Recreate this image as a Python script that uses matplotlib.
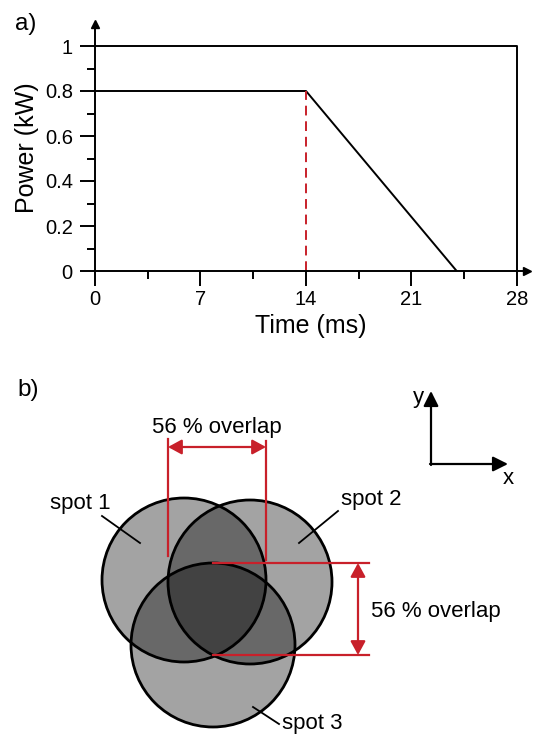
import matplotlib
matplotlib.use("Agg")
import matplotlib.pyplot as plt
from matplotlib.patches import Circle

plt.rcParams['font.family'] = ['Liberation Sans', 'DejaVu Sans']

RED = '#c8202a'

# panel a: laser power profiles
full_t = [0, 28, 28]
full_p = [1, 1, 0]
ramp_t = [0, 14, 24]
ramp_p = [0.8, 0.8, 0]
switch_t = 14
switch_p = 0.8
x_major = [0, 7, 14, 21, 28]
x_minor = [3.5, 10.5, 17.5, 24.5]
y_major = [0, 0.2, 0.4, 0.6, 0.8, 1]
y_major_labels = ['0', '0.2', '0.4', '0.6', '0.8', '1']
y_minor = [0.1, 0.3, 0.5, 0.7, 0.9]

# panel b: spot layout (diagram units)
spot_x = [184, 250, 213]
spot_y = [580, 582, 645]
spot_r = 82
spot_names = ['spot 1', 'spot 2', 'spot 3']
overlap_text = '56 % overlap'

fig = plt.figure(figsize=(5.33, 7.35), dpi=100)

# ---------- a) ----------
ax = fig.add_axes([95 / 533, 1 - 271 / 735, (527 - 95) / 533, (271 - 24) / 735])
ax.set_xlim(0, (527 - 95) / 15.07)
ax.set_ylim(0, (271 - 24) / 225)
for s in ['top', 'right']:
    ax.spines[s].set_visible(False)
for s in ['left', 'bottom']:
    ax.spines[s].set_linewidth(1.4)

ax.plot(full_t, full_p, color='black', lw=1.4, clip_on=False)
ax.plot(ramp_t, ramp_p, color='black', lw=1.4)
ax.plot([switch_t, switch_t], [0, switch_p], color=RED, lw=1.4,
        linestyle=(0, (5, 3)))

ax.set_xticks(x_major)
ax.set_xticks(x_minor, minor=True)
ax.set_yticks(y_major)
ax.set_yticklabels(y_major_labels)
ax.set_yticks(y_minor, minor=True)
ax.tick_params(which='major', direction='out', length=11, width=1.4,
               labelsize=14.5)
ax.tick_params(which='minor', direction='out', length=5.5, width=1.4)
ax.tick_params(axis='x', which='major', pad=3)
ax.tick_params(axis='y', which='major', pad=5)
ax.set_xlabel('Time (ms)', fontsize=18, labelpad=3)
ax.set_ylabel('Power (kW)', fontsize=18, labelpad=4)

# axis arrow heads
ax.plot([1], [0], marker='>', ms=6, color='black', transform=ax.transAxes,
        clip_on=False)
ax.plot([0], [1], marker='^', ms=6, color='black', transform=ax.transAxes,
        clip_on=False)

fig.text(15 / 533, 1 - 24 / 735, 'a)', fontsize=17.5, va='center', ha='left')

# ---------- b) ----------
bx = fig.add_axes([0, 0, 1, 365 / 735])
bx.set_xlim(0, 533)
bx.set_ylim(735, 370)
bx.axis('off')

for cx, cy in zip(spot_x, spot_y):
    bx.add_patch(Circle((cx, cy), spot_r, facecolor=(0, 0, 0, 0.36),
                        edgecolor='black', lw=2, zorder=2))

# leader lines and spot labels
bx.plot([102, 140], [516, 543], color='black', lw=1.3, zorder=3)
bx.text(111, 509, spot_names[0], fontsize=16, ha='right', va='baseline')
bx.plot([338, 299], [511, 543], color='black', lw=1.3, zorder=3)
bx.text(341, 505, spot_names[1], fontsize=16, ha='left', va='baseline')
bx.plot([253, 279], [707, 724], color='black', lw=1.3, zorder=3)
bx.text(282, 729, spot_names[2], fontsize=16, ha='left', va='baseline')

# horizontal overlap bracket
left_edge = spot_x[1] - spot_r
right_edge = spot_x[0] + spot_r
bx.plot([left_edge, left_edge], [439, 556], color=RED, lw=1.6, zorder=4)
bx.plot([right_edge, right_edge], [441, 560], color=RED, lw=1.6, zorder=4)
bx.annotate('', xy=(right_edge, 447), xytext=(left_edge, 447),
            arrowprops=dict(arrowstyle='<|-|>,head_length=0.55,head_width=0.3',
                            color=RED, lw=1.6, shrinkA=0, shrinkB=0,
                            mutation_scale=15), zorder=4)
bx.text((left_edge + right_edge) / 2, 433, overlap_text, fontsize=16,
        ha='center', va='baseline')

# vertical overlap bracket
top_edge = spot_y[2] - spot_r
bottom_line = 655
bx.plot([spot_x[2], 369], [top_edge, top_edge], color=RED, lw=1.6, zorder=4)
bx.plot([spot_x[2], 369], [bottom_line, bottom_line], color=RED, lw=1.6, zorder=4)
bx.annotate('', xy=(358, top_edge), xytext=(358, bottom_line),
            arrowprops=dict(arrowstyle='<|-|>,head_length=0.55,head_width=0.3',
                            color=RED, lw=1.6, shrinkA=0, shrinkB=0,
                            mutation_scale=15), zorder=4)
bx.text(371, 612, overlap_text, fontsize=16, ha='left', va='center')

# coordinate system
arrow_kw = dict(arrowstyle='-|>,head_length=0.6,head_width=0.3',
                color='black', lw=1.6, shrinkA=0, shrinkB=0, mutation_scale=15)
bx.annotate('', xy=(431, 391), xytext=(431, 465), arrowprops=arrow_kw)
bx.annotate('', xy=(508, 464), xytext=(430, 464), arrowprops=arrow_kw)
bx.text(418, 397, 'y', fontsize=16, ha='center', va='center')
bx.text(508, 478, 'x', fontsize=16, ha='center', va='center')

fig.text(17 / 533, 1 - 390 / 735, 'b)', fontsize=17.5, va='center', ha='left')

fig.savefig('out.png', dpi=100)
